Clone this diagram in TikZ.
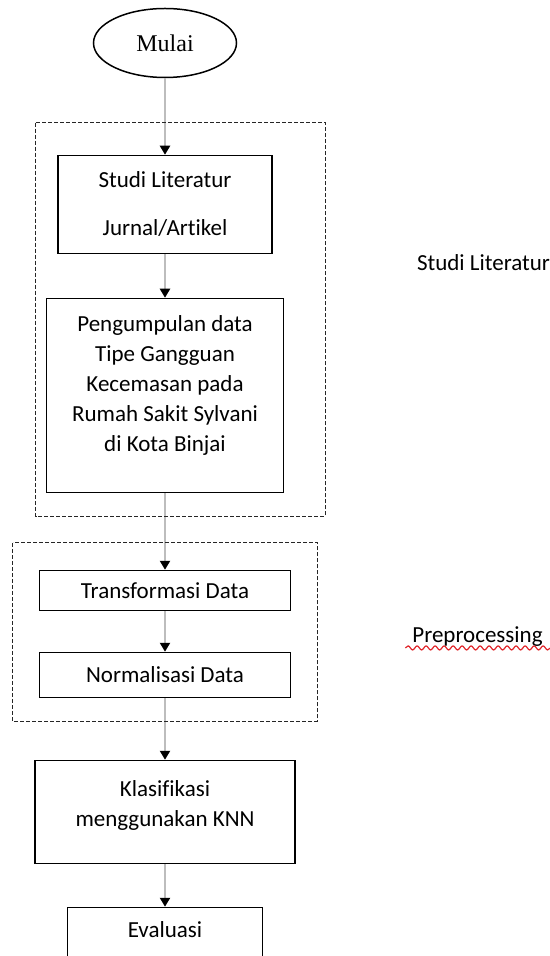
\documentclass[tikz,border=0pt]{standalone}
\usepackage{fontspec}
\setmainfont{Carlito}[Ligatures=NoCommon]
\newfontfamily\startfont{Liberation Serif}
\usetikzlibrary{arrows.meta,positioning,calc,shapes.geometric,decorations.pathmorphing}
\definecolor{FlowGray}{HTML}{BDBDBD}
\definecolor{SpellRed}{HTML}{E0262B}

\begin{document}
\begin{tikzpicture}[x=0.5pt,y=-0.5pt,
  proc/.style={draw=black,line width=0.75pt,align=center,
    font=\fontsize{11.5}{15}\selectfont,inner sep=2pt},
  arr/.style={-{Triangle[width=5pt,length=4.5pt,color=black]},line width=1.3pt,draw=FlowGray},
  grp/.style={draw=black!85,line width=0.55pt,dash pattern=on 2pt off 1pt},
  side/.style={font=\fontsize{11.5}{15}\selectfont}
]
\clip (0,0) rectangle (550,956);
\node[ellipse,draw,line width=0.75pt,minimum width=71.5pt,minimum height=34.5pt,
  font=\startfont\fontsize{12}{14}\selectfont] (mulai) at (165,43) {Mulai};
\node[proc,minimum width=107pt,minimum height=49pt,below=38.25pt of mulai] (lit)
  {Studi Literatur\\[9pt]Jurnal/Artikel};
\node[proc,minimum width=118.5pt,minimum height=97pt,text depth=12pt,below=21.75pt of lit] (data)
  {Pengumpulan data\\Tipe Gangguan\\Kecemasan pada\\Rumah Sakit Sylvani\\di Kota Binjai};
\node[proc,minimum width=125.5pt,minimum height=20pt,below=38.25pt of data] (transf)
  {Transformasi Data};
\node[proc,minimum width=125.5pt,minimum height=22.5pt,below=20.25pt of transf] (norm)
  {Normalisasi Data};
\node[proc,minimum width=130pt,minimum height=51.5pt,text depth=8.5pt,below=30.75pt of norm] (klas)
  {Klasifikasi\\menggunakan KNN};
\node[proc,minimum width=97.5pt,text height=13pt,text depth=30pt,below=21.25pt of klas] (evaluasi)
  {Evaluasi};
\draw[arr] (mulai) -- (lit);
\draw[arr] (lit) -- (data);
\draw[arr] (data) -- (transf);
\draw[arr] (transf) -- (norm);
\draw[arr] (norm) -- (klas);
\draw[arr] (klas) -- (evaluasi);
% dashed stage frames
\draw[grp] ($(data.west |- lit.north)+(-5pt,16pt)$) rectangle ($(data.south east)+(20.5pt,-11.5pt)$);
\draw[grp] ($(transf.north west)+(-13pt,13.5pt)$) rectangle ($(norm.south east)+(13pt,-11.5pt)$);
% stage names
\node[side] (litlabel) at (483.5,263) {Studi Literatur};
\node[side] (prelabel) at (477.5,637) {Preprocessing};
\draw[SpellRed,line width=0.6pt,decorate,decoration={snake,amplitude=1pt,segment length=4.5pt}]
  ($(prelabel.base west)+(0pt,-2.5pt)$) -- ($(prelabel.base east)+(2pt,-2.5pt)$);
\end{tikzpicture}
\end{document}
